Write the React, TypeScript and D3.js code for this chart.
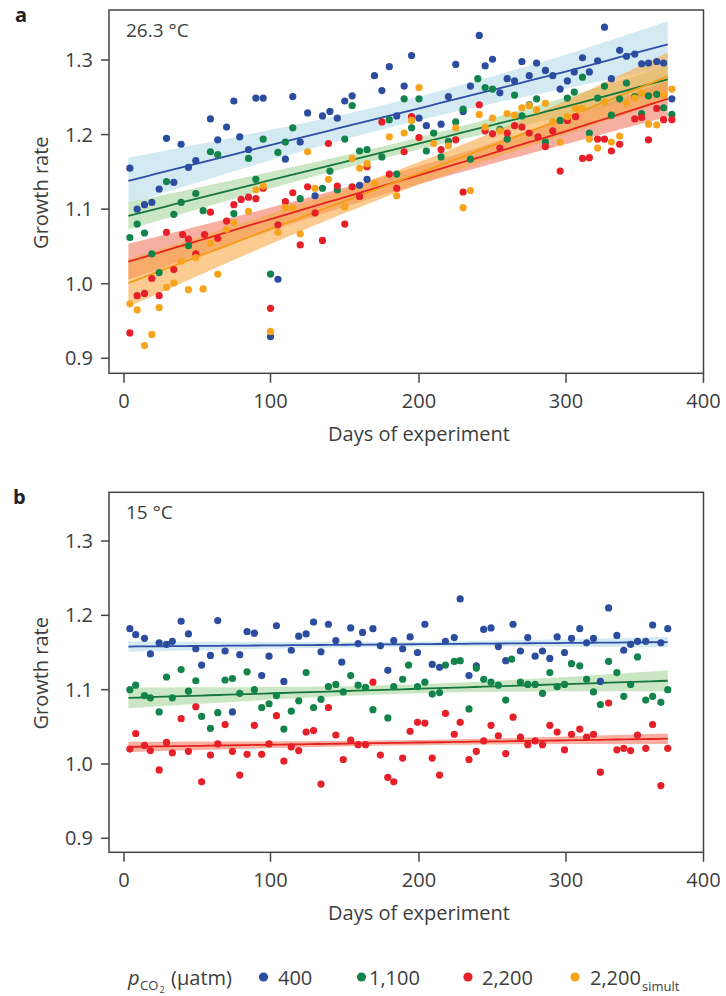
import React from 'react';
import * as d3 from 'd3';

// ---------- data (days, growth rate) ----------
const xTicks = [0, 100, 200, 300, 400];
const yTicks = [0.9, 1.0, 1.1, 1.2, 1.3];
const legendLabels = ['400', '1,100', '2,200', '2,200'];

const aBlue: [number, number][] = [[4,1.155],[9,1.100],[14,1.106],[19,1.109],[24,1.127],[29,1.195],[34,1.136],[39,1.187],[44,1.156],[49,1.165],[59,1.221],[64,1.193],[70,1.210],[75,1.245],[79,1.197],[85,1.180],[90,1.249],[95,1.249],[100,0.929],[105,1.006],[110,1.167],[115,1.251],[120,1.190],[125,1.229],[130,1.118],[135,1.225],[140,1.231],[145,1.222],[150,1.245],[155,1.252],[160,1.132],[165,1.140],[170,1.279],[175,1.259],[180,1.291],[185,1.225],[190,1.265],[195,1.306],[200,1.222],[205,1.212],[215,1.214],[220,1.251],[225,1.294],[230,1.231],[235,1.265],[241,1.333],[245,1.292],[250,1.301],[255,1.256],[260,1.275],[265,1.272],[270,1.298],[275,1.279],[280,1.296],[286,1.286],[291,1.279],[296,1.261],[301,1.272],[306,1.284],[312,1.303],[317,1.284],[323,1.299],[328,1.344],[333,1.275],[339,1.313],[344,1.305],[350,1.308],[355,1.295],[360,1.296],[366,1.298],[371,1.296],[377,1.248]];
const aGreen: [number, number][] = [[4,1.062],[9,1.080],[14,1.068],[19,1.040],[24,1.015],[29,1.137],[34,1.093],[39,1.109],[44,1.051],[49,1.121],[54,1.098],[59,1.177],[64,1.173],[75,1.094],[85,1.168],[90,1.140],[95,1.194],[100,1.013],[105,1.176],[110,1.190],[115,1.209],[120,1.114],[135,1.128],[140,1.151],[145,1.126],[150,1.194],[155,1.239],[160,1.178],[165,1.180],[175,1.170],[180,1.220],[185,1.147],[190,1.248],[195,1.209],[200,1.248],[205,1.178],[210,1.202],[215,1.170],[220,1.191],[225,1.217],[230,1.234],[235,1.167],[240,1.275],[245,1.263],[250,1.261],[255,1.207],[260,1.194],[265,1.253],[270,1.225],[275,1.240],[280,1.248],[286,1.190],[296,1.219],[301,1.249],[306,1.257],[312,1.277],[317,1.202],[323,1.249],[328,1.265],[333,1.226],[339,1.248],[344,1.269],[350,1.251],[355,1.228],[360,1.252],[366,1.254],[371,1.236],[377,1.227]];
const aRed: [number, number][] = [[4,0.934],[9,0.984],[14,0.987],[19,1.007],[24,0.984],[29,1.069],[34,1.019],[40,1.066],[44,1.060],[49,1.040],[55,1.066],[59,1.096],[64,1.061],[70,1.084],[75,1.106],[80,1.113],[85,1.116],[90,1.114],[95,1.128],[100,0.967],[105,1.079],[110,1.110],[115,1.122],[120,1.052],[125,1.130],[130,1.095],[135,1.058],[139,1.188],[145,1.131],[150,1.080],[155,1.130],[160,1.117],[165,1.157],[175,1.217],[180,1.147],[185,1.128],[190,1.177],[195,1.224],[200,1.196],[215,1.180],[225,1.193],[230,1.123],[241,1.240],[245,1.205],[250,1.201],[255,1.182],[260,1.202],[265,1.212],[270,1.210],[275,1.202],[281,1.197],[286,1.184],[291,1.205],[296,1.151],[301,1.219],[307,1.224],[312,1.168],[317,1.169],[323,1.194],[328,1.194],[333,1.178],[339,1.187],[350,1.221],[355,1.223],[360,1.193],[366,1.235],[371,1.220],[377,1.220]];
const aOrange: [number, number][] = [[4,0.973],[9,0.965],[14,0.917],[19,0.932],[24,0.968],[29,0.995],[34,1.001],[39,1.030],[44,0.992],[49,1.035],[54,0.993],[59,1.054],[64,1.013],[70,1.073],[75,1.082],[85,1.097],[90,1.126],[95,1.131],[100,0.936],[105,1.069],[110,1.102],[115,1.102],[120,1.067],[125,1.177],[130,1.128],[139,1.140],[150,1.103],[155,1.168],[160,1.155],[165,1.161],[170,1.135],[180,1.197],[185,1.118],[190,1.202],[195,1.219],[200,1.263],[210,1.188],[220,1.185],[225,1.209],[230,1.102],[235,1.125],[241,1.227],[245,1.210],[250,1.222],[255,1.205],[260,1.228],[265,1.226],[270,1.236],[275,1.239],[280,1.233],[286,1.242],[291,1.217],[296,1.190],[301,1.224],[307,1.235],[312,1.235],[317,1.194],[323,1.182],[328,1.244],[333,1.190],[339,1.198],[344,1.242],[350,1.249],[355,1.256],[360,1.214],[366,1.213],[371,1.253],[377,1.261]];

const bBlue: [number, number][] = [[4,1.182],[8,1.174],[14,1.169],[18,1.148],[24,1.163],[29,1.161],[33,1.165],[39,1.192],[44,1.175],[49,1.155],[53,1.133],[59,1.146],[64,1.193],[69,1.152],[74,1.070],[79,1.147],[84,1.178],[89,1.176],[94,1.119],[99,1.145],[104,1.186],[109,1.111],[114,1.153],[119,1.172],[124,1.175],[129,1.191],[134,1.151],[139,1.188],[144,1.166],[148,1.137],[154,1.183],[159,1.162],[162,1.177],[169,1.182],[174,1.159],[179,1.126],[183,1.166],[189,1.155],[194,1.171],[199,1.150],[204,1.188],[209,1.134],[214,1.130],[218,1.165],[224,1.170],[228,1.222],[234,1.119],[239,1.132],[244,1.181],[249,1.183],[254,1.158],[259,1.139],[264,1.188],[269,1.152],[274,1.170],[279,1.145],[284,1.152],[289,1.142],[294,1.171],[299,1.150],[304,1.169],[310,1.182],[315,1.163],[320,1.169],[325,1.111],[331,1.210],[337,1.173],[342,1.153],[347,1.161],[352,1.165],[358,1.165],[363,1.187],[369,1.163],[374,1.182]];
const bGreen: [number, number][] = [[4,1.100],[8,1.106],[14,1.092],[18,1.089],[24,1.070],[29,1.117],[33,1.089],[39,1.127],[44,1.098],[49,1.112],[53,1.064],[59,1.048],[64,1.069],[69,1.113],[74,1.115],[79,1.095],[84,1.124],[89,1.100],[94,1.076],[99,1.081],[104,1.092],[109,1.047],[114,1.071],[119,1.085],[124,1.123],[129,1.076],[134,1.087],[139,1.104],[144,1.107],[149,1.097],[154,1.119],[159,1.106],[164,1.103],[169,1.073],[179,1.062],[183,1.104],[189,1.114],[193,1.133],[199,1.104],[204,1.110],[209,1.094],[214,1.096],[218,1.133],[224,1.138],[228,1.139],[234,1.074],[239,1.129],[244,1.114],[249,1.110],[254,1.106],[259,1.086],[263,1.141],[269,1.110],[274,1.107],[279,1.107],[284,1.095],[289,1.123],[294,1.104],[299,1.107],[304,1.135],[310,1.132],[315,1.114],[320,1.097],[325,1.080],[331,1.138],[337,1.123],[342,1.091],[347,1.107],[352,1.144],[358,1.086],[363,1.091],[369,1.083],[374,1.100]];
const bRed: [number, number][] = [[4,1.020],[8,1.041],[14,1.025],[18,1.018],[24,0.992],[29,1.029],[33,1.015],[39,1.061],[44,1.017],[49,1.077],[53,0.976],[59,1.012],[64,1.027],[69,1.053],[74,1.017],[79,0.985],[84,1.013],[89,1.052],[94,1.013],[99,1.027],[104,1.065],[109,1.004],[114,1.023],[119,1.018],[124,1.043],[129,1.045],[134,0.973],[139,1.076],[144,1.039],[149,1.006],[154,1.032],[159,1.026],[164,1.026],[169,1.110],[174,1.012],[179,0.982],[183,0.976],[189,1.008],[194,1.044],[199,1.056],[204,1.055],[209,1.008],[214,0.985],[218,1.068],[224,1.040],[228,1.056],[234,1.006],[239,1.017],[244,1.031],[249,1.052],[254,1.038],[259,1.014],[264,1.063],[269,1.036],[274,1.026],[279,1.031],[284,1.026],[289,1.052],[294,1.043],[299,1.019],[304,1.040],[310,1.047],[315,1.036],[320,1.040],[325,0.989],[331,1.082],[337,1.019],[342,1.021],[347,1.018],[352,1.039],[358,1.021],[363,1.053],[369,0.971],[374,1.021]];

// fitted lines: [value at first day, value at last day, CI half-width at ends, CI half-width at centre]
const fitDays = [3, 374];
const aFitBlue = [1.138, 1.321, 0.031, 0.016];
const aFitGreen = [1.091, 1.274, 0.018, 0.008];
const aFitRed = [1.0295, 1.248, 0.024, 0.012];
const aFitOrange = [1.001, 1.278, 0.032, 0.015];
const bFitBlue = [1.158, 1.164, 0.007, 0.0035];
const bFitGreen = [1.089, 1.112, 0.014, 0.006];
const bFitRed = [1.023, 1.034, 0.007, 0.0035];

// ---------- styles ----------
const COL = {
  blue: '#2b4c9f',
  green: '#12834a',
  red: '#e61f28',
  orange: '#f7a31c',
};
const BAND = {
  blue: { fill: '#c4e3ef', op: 0.75 },
  green: { fill: '#a9d69a', op: 0.6 },
  red: { fill: '#f07a62', op: 0.6 },
  orange: { fill: '#f9a845', op: 0.6 },
};
const LINE = {
  blue: '#2f4ea6',
  green: '#16773c',
  red: '#e4231f',
  orange: '#f59b14',
};
const FONT = "'Open Sans', sans-serif";
const TXT = '#3d3d3d';

const xScale = d3.scaleLinear().domain([0, 100, 200, 300, 400]).range([124, 270.5, 419, 566, 703.5]);
const FRAME_L = 109;
const FRAME_R = 703.5;

type Series = { key: keyof typeof COL; pts: [number, number][]; fit: number[] };

function Panel({ top, bottom, y09, y13, label, temp, series }: {
  top: number; bottom: number; y09: number; y13: number; label: string; temp: string; series: Series[];
}) {
  const y = d3.scaleLinear().domain([0.9, 1.3]).range([y09, y13]);
  const [d0, d1] = fitDays;
  const mid = (d0 + d1) / 2;
  const half = (d1 - d0) / 2;
  const samples = d3.range(d0, d1 + 0.001, (d1 - d0) / 60);
  const fitVal = (f: number[], d: number) => f[0] + (f[1] - f[0]) * (d - d0) / (d1 - d0);
  const hw = (f: number[], d: number) => {
    const t = (d - mid) / half;
    return Math.sqrt(f[3] * f[3] + (f[2] * f[2] - f[3] * f[3]) * t * t);
  };
  const line = (f: number[]) => d3.line<number>().x(d => xScale(d)).y(d => y(fitVal(f, d)))(samples) || '';
  const area = (f: number[]) => d3.area<number>()
    .x(d => xScale(d))
    .y0(d => y(fitVal(f, d) - hw(f, d)))
    .y1(d => y(fitVal(f, d) + hw(f, d)))(samples) || '';
  const titleCy = (top + bottom) / 2 + 1;
  return (
    <g>
      <text x={label === 'a' ? 15 : 13} y={top + 12} fontFamily={FONT} fontWeight={700} fontSize={20} fill="#222">{label}</text>
      {series.map(s => (
        <path key={'band' + s.key} d={area(s.fit)} fill={BAND[s.key].fill} fillOpacity={BAND[s.key].op} stroke="none" />
      ))}
      {series.map(s => (
        <path key={'line' + s.key} d={line(s.fit)} fill="none" stroke={LINE[s.key]} strokeWidth={1.8} />
      ))}
      {series.map(s => (
        <g key={'pts' + s.key}>
          {s.pts.map((p, i) => (
            <circle key={i} cx={xScale(p[0])} cy={y(p[1])} r={3.6} fill={COL[s.key]} />
          ))}
        </g>
      ))}
      <rect x={FRAME_L} y={top} width={FRAME_R - FRAME_L} height={bottom - top} fill="none" stroke="#444" strokeWidth={1.5} />
      {yTicks.map(t => (
        <g key={'yt' + t}>
          <line x1={101} x2={FRAME_L} y1={y(t)} y2={y(t)} stroke="#444" strokeWidth={1.5} />
          <text x={93} y={y(t) + 7} textAnchor="end" fontFamily={FONT} fontSize={20} fill={TXT}>{t.toFixed(1)}</text>
        </g>
      ))}
      {xTicks.map(t => (
        <g key={'xt' + t}>
          <line x1={xScale(t)} x2={xScale(t)} y1={bottom} y2={bottom + 9.5} stroke="#444" strokeWidth={1.5} />
          <text x={xScale(t)} y={bottom + 34.5} textAnchor="middle" fontFamily={FONT} fontSize={20} fill={TXT}>{t}</text>
        </g>
      ))}
      <text x={xScale(200)} y={bottom + 68} textAnchor="middle" fontFamily={FONT} fontSize={20} fill={TXT}>Days of experiment</text>
      <text transform={`translate(48,${titleCy}) rotate(-90)`} textAnchor="middle" fontFamily={FONT} fontSize={20} fill={TXT}>Growth rate</text>
      <text x={126} y={top + 27} fontFamily={FONT} fontSize={19} fill={TXT}>{temp}</text>
    </g>
  );
}

export default function App() {
  const aSeries: Series[] = [
    { key: 'blue', pts: aBlue, fit: aFitBlue },
    { key: 'green', pts: aGreen, fit: aFitGreen },
    { key: 'red', pts: aRed, fit: aFitRed },
    { key: 'orange', pts: aOrange, fit: aFitOrange },
  ];
  const bSeries: Series[] = [
    { key: 'blue', pts: bBlue, fit: bFitBlue },
    { key: 'green', pts: bGreen, fit: bFitGreen },
    { key: 'red', pts: bRed, fit: bFitRed },
  ];
  const legendKeys: (keyof typeof COL)[] = ['blue', 'green', 'red', 'orange'];
  const legendDotX = [263.5, 361.5, 468, 575];
  const legendTextX = [278, 369, 482, 590];
  return (
    <div style={{ position: 'absolute', left: 0, top: 0 }}>
      <svg width={726} height={996} viewBox="0 0 726 996" style={{ display: 'block', background: '#fff' }}>
        <rect x={0} y={0} width={726} height={996} fill="#fff" />
        <Panel top={10} bottom={373.3} y09={358.3} y13={60} label="a" temp="26.3 °C" series={aSeries} />
        <Panel top={492.3} bottom={852.3} y09={838.3} y13={541} label="b" temp="15 °C" series={bSeries} />
        <g fontFamily={FONT} fill={TXT}>
          <text x={128} y={985} fontSize={20} fontStyle="italic">p</text>
          <text x={140} y={990} fontSize={13}>CO</text>
          <text x={159.5} y={993} fontSize={9}>2</text>
          <text x={171} y={985} fontSize={20}>(µatm)</text>
          {legendKeys.map((k, i) => (
            <g key={k}>
              <circle cx={legendDotX[i]} cy={977} r={4.6} fill={COL[k]} />
              <text x={legendTextX[i]} y={985} fontSize={20}>{legendLabels[i]}</text>
            </g>
          ))}
          <text x={642} y={991} fontSize={13}>simult</text>
        </g>
      </svg>
    </div>
  );
}
